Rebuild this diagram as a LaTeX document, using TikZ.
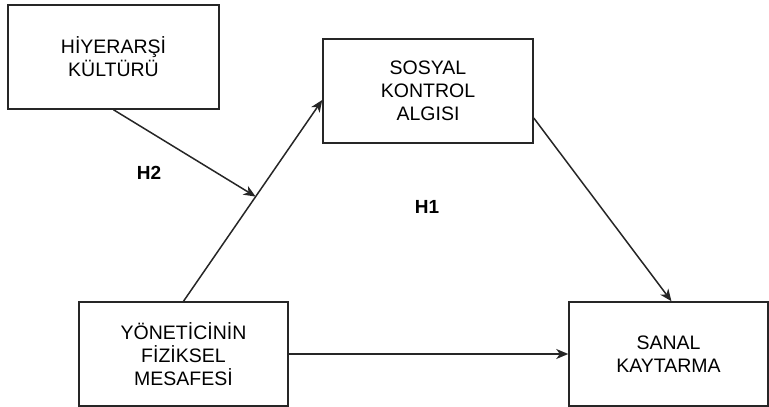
\documentclass[tikz,border=0pt]{standalone}
\usepackage{fontspec}
\setmainfont{Liberation Sans}
\usepackage{xcolor}
\usepackage{tikz}
\usetikzlibrary{positioning}
\usetikzlibrary{arrows.meta}
\tikzset{edge/.style = {->,> = {Stealth[length=12pt,width=10pt,inset=3.5pt]}}}

\begin{document}
\begin{tikzpicture}[x=1pt,y=-1pt,line width=1.5pt,draw=black!85,
    main node/.style={rectangle,draw,minimum height=104pt,align=center,font=\fontsize{19.5}{23}\selectfont},
    hyp/.style={font=\fontsize{19}{22}\selectfont\bfseries}]
                \useasboundingbox (0,0) rectangle (769,407);
                \node[main node,minimum width=211pt] (hk) at (113.5,57) {HİYERARŞİ\\KÜLTÜRÜ};
                \node[main node,minimum width=210pt] (ska) at (428,91) {SOSYAL\\KONTROL\\ALGISI};
                \node[main node,minimum width=209pt] (yfm) at (183.5,354) {YÖNETİCİNİN\\FİZİKSEL\\MESAFESİ};
                \node[main node,minimum width=199pt] (sk) at (668.5,354) {SANAL\\KAYTARMA};

                \node[hyp] (h2) at (149,173) {H2};
                \node[hyp] (h1) at (427,207) {H1};

                \draw[edge] (yfm.north) -- coordinate[pos=0.52] (mod) ([yshift=-9pt]ska.west);
                \draw[edge] (hk.south) -- (mod);
                \draw[edge] ([yshift=-27pt]ska.east) -- ([xshift=3pt]sk.north);
                \draw[edge] (yfm.east) -- (sk.west);
            \end{tikzpicture}
\end{document}
